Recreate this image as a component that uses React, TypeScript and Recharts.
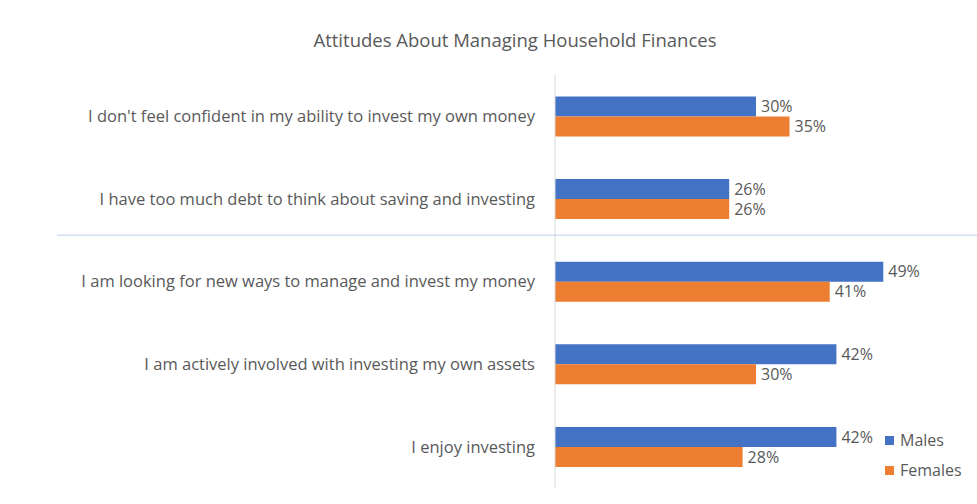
import { BarChart, Bar, XAxis, YAxis, LabelList, ReferenceLine } from 'recharts'

const categories = [
  "I don't feel confident in my ability to invest my own money",
  'I have too much debt to think about saving and investing',
  'I am looking for new ways to manage and invest my money',
  'I am actively involved with investing my own assets',
  'I enjoy investing',
]
const males = [30, 26, 49, 42, 42]
const females = [35, 26, 41, 30, 28]

const data = categories.map((c, i) => ({ name: c, Males: males[i], Females: females[i] }))

const FONT = '"Open Sans", sans-serif'
const TEXT = '#595959'
const BLUE = '#4472C4'
const ORANGE = '#ED7D31'

const W = 977
const H = 504
const margin = { top: 75, right: 87, bottom: 16, left: 0 }
const halfBand = (H - margin.top - margin.bottom) / categories.length / 2

// thin divider drawn a little above the gap between the 2nd and 3rd groups
function Separator(props: any) {
  const y = props.y1 + halfBand - 5
  return <line x1={57} x2={W} y1={y} y2={y} stroke="#c9d7ef" strokeWidth={1.2} />
}

const legendItems = [
  { label: 'Males', color: BLUE },
  { label: 'Females', color: ORANGE },
]

export default function App() {
  return (
    <div style={{ position: 'absolute', left: 0, top: 0, width: W, height: H, background: '#fff' }}>
      <div
        style={{
          position: 'absolute',
          left: 515,
          top: 27,
          transform: 'translateX(-50%)',
          whiteSpace: 'nowrap',
          fontFamily: FONT,
          fontSize: 18.5,
          color: TEXT,
        }}
      >
        Attitudes About Managing Household Finances
      </div>
      <BarChart
        width={W}
        height={H}
        data={data}
        layout="vertical"
        margin={margin}
        barCategoryGap="26%"
        barGap={0}
      >
        <XAxis type="number" domain={[0, 50]} hide />
        <YAxis
          type="category"
          dataKey="name"
          width={555}
          tickLine={false}
          tickSize={0}
          tickMargin={20}
          axisLine={{ stroke: '#d9d9d9' }}
          tick={{ fill: TEXT, fontSize: 16.5, fontFamily: FONT }}
        />
        <ReferenceLine y={categories[1]} shape={Separator} ifOverflow="visible" />
        <Bar dataKey="Males" fill={BLUE} isAnimationActive={false}>
          <LabelList dataKey="Males" position="right" offset={5} formatter={(v: any) => `${v}%`} fill={TEXT} fontSize={16} fontFamily={FONT} />
        </Bar>
        <Bar dataKey="Females" fill={ORANGE} isAnimationActive={false}>
          <LabelList dataKey="Females" position="right" offset={5} formatter={(v: any) => `${v}%`} fill={TEXT} fontSize={16} fontFamily={FONT} />
        </Bar>
      </BarChart>
      <div style={{ position: 'absolute', left: 885, top: 425, fontFamily: FONT, fontSize: 16, color: TEXT }}>
        {legendItems.map((it) => (
          <div key={it.label} style={{ display: 'flex', alignItems: 'center', height: 30 }}>
            <span style={{ width: 9, height: 9, background: it.color, marginRight: 6, display: 'inline-block' }} />
            {it.label}
          </div>
        ))}
      </div>
    </div>
  )
}
